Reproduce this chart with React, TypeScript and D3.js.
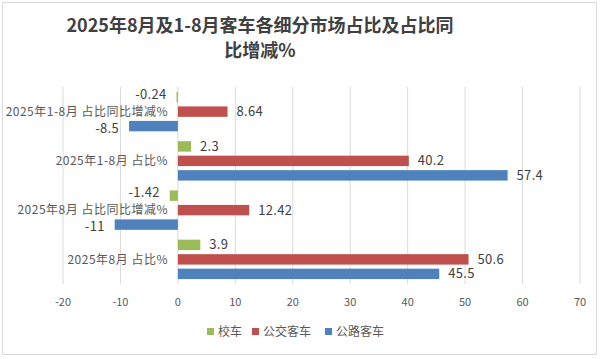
import React from "react";
import * as d3 from "d3";

const categories = [
  "2025年1-8月 占比同比增减%",
  "2025年1-8月 占比%",
  "2025年8月 占比同比增减%",
  "2025年8月 占比%",
];
const seriesNames = ["校车", "公交客车", "公路客车"];
const schoolBus = [-0.24, 2.3, -1.42, 3.9];
const cityBus = [8.64, 40.2, 12.42, 50.6];
const highwayBus = [-8.5, 57.4, -11, 45.5];
const xTicks = [-20, -10, 0, 10, 20, 30, 40, 50, 60, 70];
const colors = ["#9BBB59", "#C0504D", "#4F81BD"];

const W = 600;
const H = 359;
const FONT = "'Noto Sans CJK SC', 'Noto Sans', sans-serif";

export default function App() {
  const series = [schoolBus, cityBus, highwayBus];
  const x = d3.scaleLinear().domain([-20, 70]).range([63, 580]);
  const y = d3.scaleBand<string>().domain(categories).range([87, 284]).paddingInner(0.2).paddingOuter(0.1);
  const sub = d3.scaleBand<string>().domain(seriesNames).range([0, y.bandwidth()]).paddingInner(0.28);

  const legendX = [207, 252, 325];

  return (
    <>
      <style>{"body{margin:0}"}</style>
      <svg width={W} height={H} style={{ display: "block", fontFamily: FONT }}>
        <rect x={0} y={0} width={W} height={H} fill="#fff" />
        <rect x={2.5} y={2.5} width={594} height={352} fill="#fff" stroke="#d9d9d9" />
        <text x={260} y={32} textAnchor="middle" fontSize={18} fontWeight="bold" fill="#404040">
          2025年8月及1-8月客车各细分市场占比及占比同
        </text>
        <text x={260} y={57} textAnchor="middle" fontSize={18} fontWeight="bold" fill="#404040">
          比增减%
        </text>
        {xTicks.map((t) => (
          <g key={t}>
            <line x1={x(t)} x2={x(t)} y1={87} y2={284} stroke="#d9d9d9" strokeWidth={1} />
            <text x={x(t)} y={306} textAnchor="middle" fontSize={11} fill="#595959">
              {t}
            </text>
          </g>
        ))}
        {categories.map((c) => (
          <text
            key={c}
            x={168}
            y={(y(c) as number) + y.bandwidth() / 2}
            dy="0.35em"
            textAnchor="end"
            fontSize={12}
            letterSpacing={0.5}
            fill="#595959"
          >
            {c}
          </text>
        ))}
        {categories.map((c, ci) =>
          series.map((s, si) => {
            const v = s[ci];
            const by = (y(c) as number) + (sub(seriesNames[si]) as number);
            const bh = sub.bandwidth();
            const x0 = x(0);
            const x1 = x(v);
            const lx = v >= 0 ? x1 + 9 : x1 - 10;
            return (
              <g key={c + si}>
                <rect
                  x={Math.min(x0, x1)}
                  y={by}
                  width={Math.abs(x1 - x0)}
                  height={bh}
                  fill={colors[si]}
                />
                <text
                  x={lx}
                  y={by + bh / 2 + (v < 0 ? (si === 0 ? -3 : 2) : 0)}
                  dy="0.35em"
                  textAnchor={v >= 0 ? "start" : "end"}
                  fontSize={13}
                  letterSpacing={0.3}
                  fill="#404040"
                >
                  {String(v)}
                </text>
              </g>
            );
          })
        )}
        {seriesNames.map((n, i) => (
          <g key={n}>
            <rect x={legendX[i]} y={328} width={7} height={7} fill={colors[i]} />
            <text x={legendX[i] + 11} y={332} dy="0.35em" fontSize={12} fill="#595959">
              {n}
            </text>
          </g>
        ))}
      </svg>
    </>
  );
}
